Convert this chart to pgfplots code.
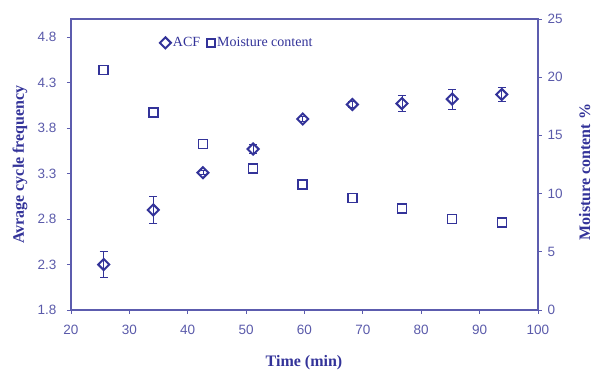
\documentclass[border=0pt]{standalone}
\usepackage{fontspec}
\setmainfont{Liberation Serif}
\setsansfont{Liberation Sans}
\usepackage{pgfplots}
\pgfplotsset{compat=1.18}
\definecolor{navy}{HTML}{333399}
\definecolor{tickc}{HTML}{5A5AAA}
\definecolor{axc}{HTML}{5C5CAE}
\pgfplotstableread{
x y e
25.6 2.30 0.14
34.1 2.90 0.15
42.6 3.31 0.02
51.2 3.57 0.05
59.7 3.90 0.03
68.2 4.06 0.03
76.7 4.07 0.085
85.3 4.12 0.11
93.8 4.17 0.08
}\acf
\pgfplotstableread{
x y
25.6 20.6
34.1 16.95
42.6 14.26
51.2 12.17
59.7 10.77
68.2 9.62
76.7 8.71
85.3 7.82
93.8 7.53
}\moist
\begin{document}
\begin{tikzpicture}[x=1pt,y=1pt]
\useasboundingbox (-71,-61) rectangle (524,310);
\begin{axis}[
  at={(0,0)}, anchor=south west,
  scale only axis, width=467pt, height=291pt,
  xmin=20, xmax=100, ymin=1.8, ymax=5.0,
  xtick={20,30,40,50,60,70,80,90,100},
  ytick={1.8,2.3,2.8,3.3,3.8,4.3,4.8},
  yticklabel style={/pgf/number format/fixed,/pgf/number format/precision=1,/pgf/number format/fixed zerofill, xshift=-7pt},
  xtick pos=bottom, ytick pos=left, tick align=outside,
  major tick length=4pt,
  axis line style={axc, line width=1.2pt},
  tick style={axc, line width=0.8pt},
  ticklabel style={font=\sffamily\fontsize{13.5}{15}\selectfont, text=tickc},
  xticklabel style={yshift=-8pt},
  /pgf/number format/assume math mode=true,
  xlabel={Time (min)},
  ylabel={Avrage cycle frequency},
  label style={font=\rmfamily\bfseries\fontsize{16}{18}\selectfont, text=navy},
  xlabel style={at={(axis description cs:0.499,-0.182)}, anchor=center},
  ylabel style={at={(axis description cs:-0.109,0.5)}, anchor=center},
  legend style={draw=none, fill=none, at={(axis description cs:0.19,0.918)}, anchor=west,
    font=\rmfamily\fontsize{14}{16}\selectfont, text=navy, legend columns=2,
    /tikz/every even column/.append style={column sep=5pt}, inner sep=0pt},
  legend image code/.code={\draw[#1] plot coordinates {(0pt,0pt)};},
]
\addplot[navy, only marks, mark=square, mark size=3.9pt, mark options={rotate=45, line width=2pt},
  error bars/.cd, y dir=both, y explicit,
  error bar style={navy, line width=0.8pt},
  error mark options={rotate=90, mark size=4pt, line width=0.8pt, navy}]
  table[x=x, y=y, y error=e] {\acf};
\addlegendentry{ACF}
\addlegendimage{navy, only marks, mark=square, mark size=4pt, mark options={line width=1.6pt}}
\addlegendentry{Moisture content}
\end{axis}
\begin{axis}[
  at={(0,0)}, anchor=south west,
  scale only axis, width=467pt, height=291pt,
  xmin=20, xmax=100, ymin=0, ymax=25,
  axis x line=none, axis y line*=right,
  ytick={0,5,10,15,20,25},
  tick align=outside, major tick length=4pt,
  axis line style={axc, line width=1.2pt},
  tick style={axc, line width=0.8pt},
  ticklabel style={font=\sffamily\fontsize{13.5}{15}\selectfont, text=tickc},
  yticklabel style={xshift=2pt},
  /pgf/number format/assume math mode=true,
  ylabel={Moisture content \%},
  label style={font=\rmfamily\bfseries\fontsize{16}{18}\selectfont, text=navy},
  ylabel style={at={(axis description cs:1.1,0.474)}, anchor=center, rotate=0},
]
\addplot[navy, only marks, mark=square, mark size=4.5pt, mark options={line width=1.5pt, line join=miter}]
  table[x=x, y=y] {\moist};
\end{axis}
\end{tikzpicture}
\end{document}
